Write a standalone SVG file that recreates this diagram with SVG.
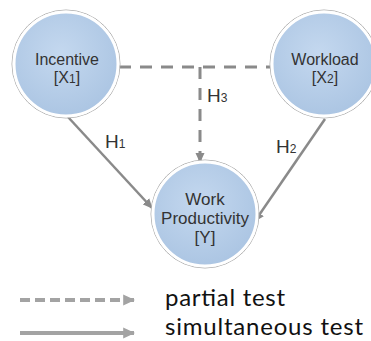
<svg xmlns="http://www.w3.org/2000/svg" width="371" height="341" viewBox="0 0 371 341">
<defs>
<radialGradient id="g" cx="0.45" cy="0.4" r="0.65">
<stop offset="0" stop-color="#c4d8ef"/>
<stop offset="1" stop-color="#aac4e2"/>
</radialGradient>
<marker id="ah" markerWidth="10" markerHeight="10" viewBox="0 0 10 10" refX="9" refY="5" orient="auto" markerUnits="userSpaceOnUse">
<path d="M0,0.5 L10,5 L0,9.5 Z" fill="#8a8a8a"/>
</marker>
<marker id="ahl" markerWidth="12" markerHeight="12" viewBox="0 0 10 10" refX="9" refY="5" orient="auto" markerUnits="userSpaceOnUse">
<path d="M0,0.5 L10,5 L0,9.5 Z" fill="#a3a3a3"/>
</marker>
</defs>
<style>
.node circle.o{fill:none;stroke:#b0b0b0;stroke-width:1}
.node circle.r{fill:url(#g);stroke:#ffffff;stroke-width:3}
.lbl{font-family:"Liberation Sans",Arial,sans-serif;font-size:16px;fill:#333;text-anchor:middle}
.h{font-family:"Liberation Sans",Arial,sans-serif;font-size:19px;fill:#333}
.sub{font-size:12px}
.dash{fill:none;stroke:#8a8a8a;stroke-width:3;stroke-dasharray:12 9}
.solid{fill:none;stroke:#8a8a8a;stroke-width:2.5}
.leg{font-family:Lato,"Open Sans",sans-serif;font-size:24px;fill:#111}
</style>
<g id="connectors">
<path class="dash" d="M119,67 H270"/>
<path class="dash" d="M200,67 V162" marker-end="url(#ah)"/>
<path class="solid" d="M68,117 L152,208" marker-end="url(#ah)"/>
<path class="solid" d="M325,119 L255,221" marker-end="url(#ah)"/>
</g>
<g id="incentive" class="node">
<circle class="o" cx="66" cy="64" r="54"/>
<circle class="r" cx="66" cy="64" r="52"/>
<text class="lbl" x="67" y="65">Incentive</text>
<text class="lbl" x="67" y="83">[X<tspan class="sub">1</tspan>]</text>
</g>
<g id="workload" class="node">
<circle class="o" cx="324" cy="64" r="54"/>
<circle class="r" cx="324" cy="64" r="52"/>
<text class="lbl" x="325" y="65">Workload</text>
<text class="lbl" x="325" y="83">[X<tspan class="sub">2</tspan>]</text>
</g>
<g id="productivity" class="node">
<circle class="o" cx="205" cy="214" r="54"/>
<circle class="r" cx="205" cy="214" r="52"/>
<text class="lbl" x="205" y="205" style="font-size:17px">Work</text>
<text class="lbl" x="205" y="224" style="font-size:17px">Productivity</text>
<text class="lbl" x="205" y="243" style="font-size:17px">[Y]</text>
</g>
<g id="labels">
<text class="h" x="105" y="148">H<tspan class="sub">1</tspan></text>
<text class="h" x="207" y="102">H<tspan class="sub">3</tspan></text>
<text class="h" x="276" y="153">H<tspan class="sub">2</tspan></text>
</g>
<g id="legend">
<path d="M20,300 H134" fill="none" stroke="#a3a3a3" stroke-width="4" stroke-dasharray="10 5" marker-end="url(#ahl)"/>
<path d="M20,333 H134" fill="none" stroke="#a3a3a3" stroke-width="4" marker-end="url(#ahl)"/>
<text class="leg" x="165" y="306" textLength="120" lengthAdjust="spacing">partial test</text>
<text class="leg" x="165" y="335" textLength="198" lengthAdjust="spacing">simultaneous test</text>
</g>
</svg>
